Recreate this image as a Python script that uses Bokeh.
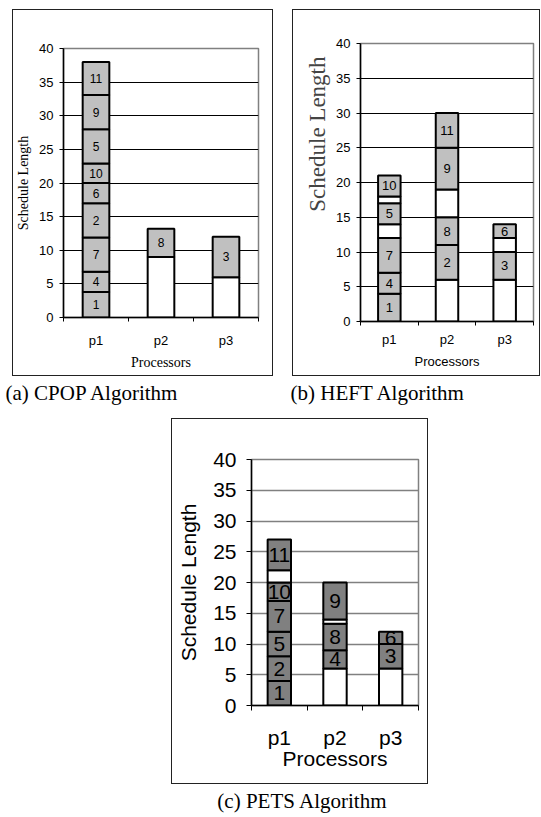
from bokeh.plotting import figure
from bokeh.models import ColumnDataSource, FixedTicker, Range1d, Title, Spacer
from bokeh.layouts import column, row
from bokeh.embed import file_html
from bokeh.resources import INLINE
from bokeh.core.properties import value

processors = ["p1", "p2", "p3"]
y_ticks = [0, 5, 10, 15, 20, 25, 30, 35, 40]

# (a) CPOP: one entry per schedule segment ("" = idle time)
cpop_proc = ["p1"] * 9 + ["p2"] * 2 + ["p3"] * 2
cpop_task = ["1", "4", "7", "2", "6", "10", "5", "9", "11", "", "8", "", "3"]
cpop_start = [0, 3.8, 6.8, 11.9, 17, 20, 22.9, 28, 33.1, 0, 9, 0, 6]
cpop_end = [3.8, 6.8, 11.9, 17, 20, 22.9, 28, 33.1, 38, 9, 13.2, 6, 12]

# (b) HEFT
heft_proc = ["p1"] * 7 + ["p2"] * 6 + ["p3"] * 4
heft_task = ["1", "4", "7", "", "5", "", "10", "", "2", "8", "", "9", "11", "", "3", "", "6"]
heft_start = [0, 4, 7, 12, 14, 17, 18, 0, 6, 11, 15, 19, 25, 0, 6, 10, 12]
heft_end = [4, 7, 12, 14, 17, 18, 21, 6, 11, 15, 19, 25, 30, 6, 10, 12, 14]

# (c) PETS
pets_proc = ["p1"] * 7 + ["p2"] * 5 + ["p3"] * 3
pets_task = ["1", "2", "5", "7", "10", "", "11", "", "4", "8", "", "9", "", "3", "6"]
pets_start = [0, 4, 8, 12, 17, 20, 22, 0, 6, 9, 13.3, 14, 0, 6, 10]
pets_end = [4, 8, 12, 17, 20, 22, 27, 6, 9, 13.3, 14, 20, 6, 10, 12]

captions = ["(a) CPOP Algorithm", "(b) HEFT Algorithm", "(c) PETS Algorithm"]

SANS = "Liberation Sans"
SERIF = "Liberation Serif"


def chart(proc, task, start, end, s):
    p = figure(frame_width=s["fw"], frame_height=s["fh"],
               x_range=Range1d(0, len(processors)),
               y_range=Range1d(y_ticks[0], y_ticks[-1]),
               toolbar_location=None, output_backend="svg",
               min_border_left=s["ml"], min_border_right=s["mr"],
               min_border_top=s["mt"], min_border_bottom=s["mb"],
               frame_align=False,
               styles={"border": "1px solid #222222"})
    p.outline_line_color = "#808080"
    p.outline_line_width = 1.5
    p.xgrid.visible = False
    p.ygrid.grid_line_color = s["grid"]
    p.ygrid.grid_line_width = s["gridw"]

    xs = [processors.index(q) + 0.5 for q in proc]
    mids = [(a + b) / 2 for a, b in zip(start, end)]
    fills = [s["fill"] if t else "white" for t in task]
    src = ColumnDataSource(dict(x=xs, bottom=start, top=end, mid=mids, task=task, fill=fills))
    p.vbar(x="x", bottom="bottom", top="top", width=s["bw"], source=src,
           fill_color="fill", line_color="black", line_width=2)
    p.text(x="x", y="mid", text="task", source=src, text_align="center",
           text_baseline="middle", text_font=value(SANS),
           text_font_size=s["bar_fs"], text_color="black")

    for ax in (p.xaxis[0], p.yaxis[0]):
        ax.axis_line_color = "black"
        ax.axis_line_width = 1.5
        ax.major_tick_line_color = "black"
        ax.minor_tick_line_color = "black"
        ax.major_label_text_font = SANS
        ax.major_label_text_font_size = s["tick_fs"]
        ax.major_label_text_color = "black"
        ax.axis_label_text_font_style = "normal"
        ax.axis_label_text_color = "black"

    yax = p.yaxis[0]
    yax.ticker = FixedTicker(ticks=y_ticks)
    yax.major_tick_out = s["tick_len"]
    yax.major_tick_in = 0
    yax.minor_tick_out = 0
    yax.minor_tick_in = 0
    yax.major_label_standoff = s["ylab_so"]

    xax = p.xaxis[0]
    xax.ticker = FixedTicker(ticks=[i + 0.5 for i in range(len(processors))],
                             minor_ticks=list(range(len(processors) + 1)))
    xax.major_label_overrides = {i + 0.5: processors[i] for i in range(len(processors))}
    xax.major_tick_out = 0
    xax.major_tick_in = 0
    xax.minor_tick_out = s["tick_len"]
    xax.minor_tick_in = 0
    xax.major_label_standoff = s["xlab_so"]
    xax.axis_label = "Processors"
    xax.axis_label_text_font = s["xt_font"]
    xax.axis_label_text_font_size = s["xt_fs"]
    xax.axis_label_standoff = s["xt_so"]

    if "yt_align" in s:
        p.add_layout(Title(text="Schedule Length", text_font=s["yt_font"],
                           text_font_size=s["yt_fs"], text_font_style="normal",
                           align=s["yt_align"], offset=s["yt_offset"],
                           standoff=s["yt_so"]), "left")
    else:
        yax.axis_label = "Schedule Length"
        yax.axis_label_text_font = s["yt_font"]
        yax.axis_label_text_font_size = s["yt_fs"]
        yax.axis_label_standoff = s["yt_so"]
    return p


fig_a = chart(cpop_proc, cpop_task, cpop_start, cpop_end, dict(
    fw=193, fh=267, ml=50, mr=16, mt=38, mb=60, grid="black", gridw=1,
    fill="#c0c0c0", bw=0.41, bar_fs="12px", tick_fs="13px", tick_len=4,
    ylab_so=6, xlab_so=11, xt_font=SERIF, xt_fs="14px", xt_so=4,
    yt_font=SERIF, yt_fs="14px", yt_so=5))

fig_b = chart(heft_proc, heft_task, heft_start, heft_end, dict(
    fw=171, fh=276, ml=67, mr=8, mt=33, mb=56, grid="black", gridw=1,
    fill="#c0c0c0", bw=0.39, bar_fs="13px", tick_fs="13px", tick_len=4,
    ylab_so=6, xlab_so=6, xt_font=SANS, xt_fs="13px", xt_so=4,
    yt_font=SERIF, yt_fs="23px", yt_so=8, yt_align="right", yt_offset=13))

fig_c = chart(pets_proc, pets_task, pets_start, pets_end, dict(
    fw=165, fh=244, ml=79, mr=11, mt=40, mb=80, grid="#808080", gridw=1.5,
    fill="#808080", bw=0.42, bar_fs="21px", tick_fs="21px", tick_len=5,
    ylab_so=10, xlab_so=15, xt_font=SANS, xt_fs="21px", xt_so=-5,
    yt_font=SANS, yt_fs="21px", yt_so=10))


def caption_fig(w, h, xs, ys, texts, aligns):
    c = figure(width=w, height=h, x_range=Range1d(0, w), y_range=Range1d(0, h),
               toolbar_location=None, output_backend="svg",
               x_axis_type=None, y_axis_type=None, min_border=0)
    c.grid.visible = False
    c.outline_line_color = None
    src = ColumnDataSource(dict(x=xs, y=ys, t=texts, a=aligns))
    c.text(x="x", y="y", text="t", text_align="a", source=src,
           text_baseline="middle", text_font=value(SERIF),
           text_font_size="21px", text_color="black")
    return c


cap_ab = caption_fig(540, 42, [5, 290], [26, 26], captions[:2], ["left", "left"])
cap_c = caption_fig(540, 30, [302], [14], captions[2:], ["center"])

layout = column(
    Spacer(height=9),
    row(Spacer(width=12), fig_a, Spacer(width=19), fig_b, spacing=0),
    cap_ab,
    row(Spacer(width=171), fig_c, spacing=0),
    cap_c,
    spacing=0,
)

open("out.html", "w").write(file_html(layout, INLINE))
